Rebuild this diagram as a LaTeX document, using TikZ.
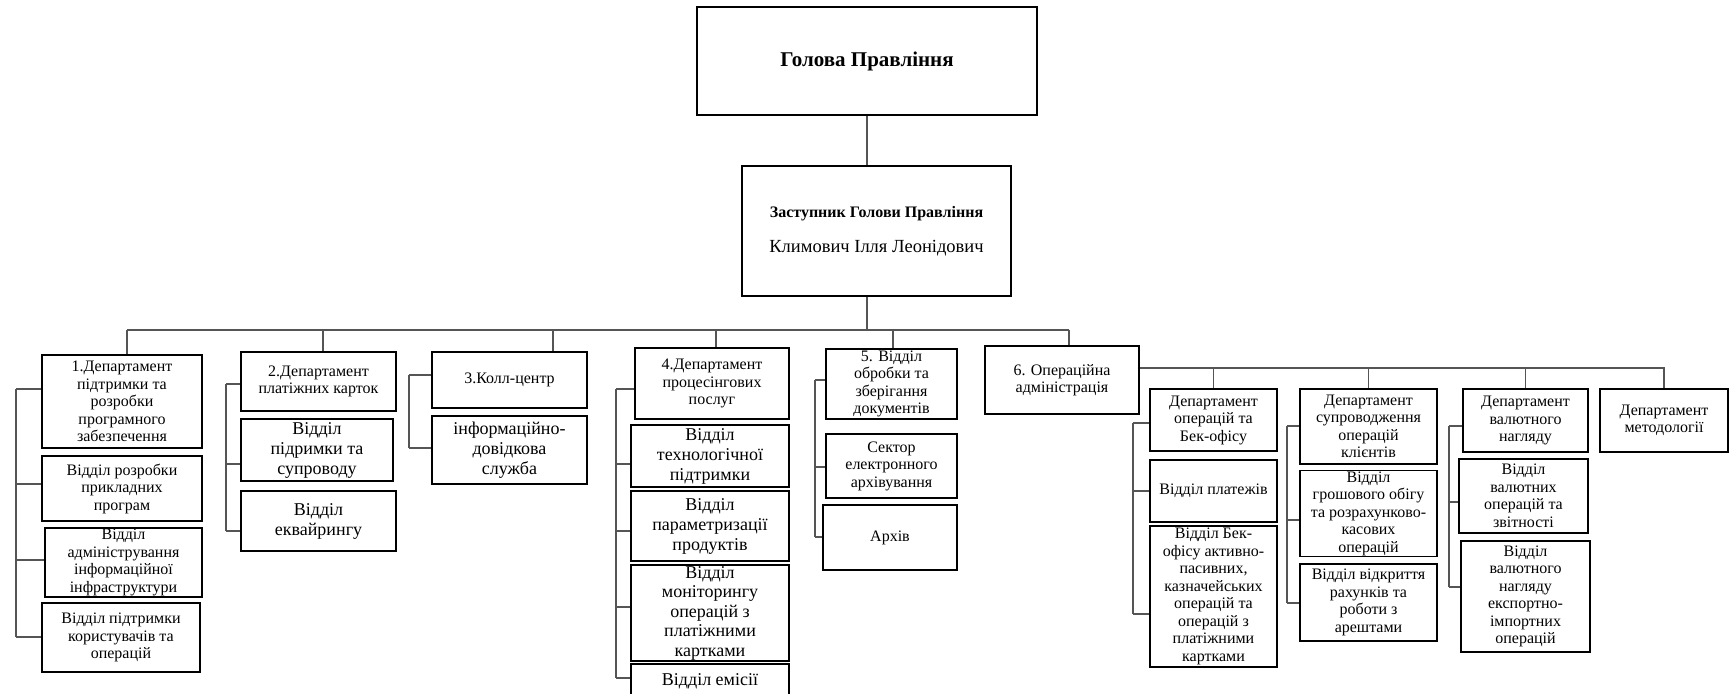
\documentclass[tikz,border=0pt]{standalone}
\usepackage{fontspec}
\setmainfont{Liberation Serif}
\definecolor{linkgrey}{RGB}{85,85,85}

\begin{document}
\begin{tikzpicture}[x=1pt, y=-1pt,
    box/.style={draw, line width=1.7pt, inner sep=1pt, align=center,
      font=\fontsize{16}{17.5}\selectfont},
    bigbox/.style={box, font=\fontsize{18}{20}\selectfont},
    link/.style={draw=linkgrey, line width=1.3pt}]
  \useasboundingbox (0,0) rectangle (1731,693);
  % Management
  \node[box, minimum width=340, minimum height=108,
    font=\fontsize{21}{23}\selectfont\bfseries] (top) at (867,61) {Голова Правління};
  \node[box, minimum width=269, minimum height=130] (dep) at (876.5,231)
    {{\bfseries Заступник Голови Правління}\\[18pt]{\fontsize{18.5}{20}\selectfont Климович Ілля Леонідович}};
  % Departments
  \node[box, minimum width=160, minimum height=93] (d1) at (122,401.5)
    {1.Департамент\\підтримки та\\розробки\\програмного\\забезпечення};
  \node[box, minimum width=155, minimum height=59] (d2) at (318.5,381.5)
    {2.Департамент\\платіжних карток};
  \node[box, minimum width=155, minimum height=56] (d3) at (509.5,380) {3.Колл-центр};
  \node[box, minimum width=154, minimum height=71] (d4) at (712,383.5)
    {4.Департамент\\процесінгових\\послуг};
  \node[box, minimum width=131, minimum height=70] (d5) at (891.5,384)
    {5. Відділ\\обробки та\\зберігання\\документів};
  \node[box, minimum width=154, minimum height=68] (d6) at (1062,380)
    {6. Операційна\\адміністрація};
  % Group 1
  \node[box, minimum width=160, minimum height=65] (s11) at (122,488.5)
    {Відділ розробки\\прикладних\\програм};
  \node[box, minimum width=157, minimum height=69] (s12) at (123.5,562.5)
    {Відділ\\адміністрування\\інформаційної\\інфраструктури};
  \node[box, minimum width=158, minimum height=69] (s13) at (121,637.5)
    {Відділ підтримки\\користувачів та\\операцій};
  % Group 2
  \node[bigbox, minimum width=152, minimum height=62] (s21) at (317,450)
    {Відділ\\підримки та\\супроводу};
  \node[bigbox, minimum width=155, minimum height=60] (s22) at (318.5,521)
    {Відділ\\еквайрингу};
  % Group 3
  \node[bigbox, minimum width=155, minimum height=68] (s31) at (509.5,450)
    {інформаційно-\\довідкова\\служба};
  % Group 4
  \node[bigbox, minimum width=158, minimum height=62] (s41) at (710,456)
    {Відділ\\технологічної\\підтримки};
  \node[bigbox, minimum width=158, minimum height=70] (s42) at (710,526)
    {Відділ\\параметризації\\продуктів};
  \node[bigbox, minimum width=158, minimum height=92, font=\fontsize{18}{19.5}\selectfont] (s43) at (710,613)
    {Відділ\\моніторингу\\операцій з\\платіжними\\картками};
  \node[bigbox, minimum width=158, minimum height=34] (s44) at (710,681) {Відділ емісії};
  % Group 5
  \node[box, minimum width=131, minimum height=64] (s51) at (891.5,466)
    {Сектор\\електронного\\архівування};
  \node[box, minimum width=134, minimum height=65] (s52) at (890,537.5) {Архів};
  % Group 6
  \node[box, minimum width=127, minimum height=62] (e1) at (1213.5,420)
    {Департамент\\операцій та\\Бек-офісу};
  \node[box, minimum width=137, minimum height=75] (e2) at (1368.5,426.5)
    {Департамент\\супроводження\\операцій\\клієнтів};
  \node[box, minimum width=125, minimum height=63] (e3) at (1525.5,420.5)
    {Департамент\\валютного\\нагляду};
  \node[box, minimum width=128, minimum height=63] (e4) at (1664,420.5)
    {Департамент\\методології};
  \node[box, minimum width=127, minimum height=62] (s611) at (1213.5,491) {Відділ платежів};
  \node[box, minimum width=127, minimum height=141] (s612) at (1213.5,596.5)
    {Відділ Бек-\\офісу активно-\\пасивних,\\казначейських\\операцій та\\операцій з\\платіжними\\картками};
  \node[box, minimum width=137, minimum height=85] (s621) at (1368.5,513.5)
    {Відділ\\грошового обігу\\та розрахунково-\\касових\\операцій};
  \node[box, minimum width=137, minimum height=77] (s622) at (1368.5,602.5)
    {Відділ відкриття\\рахунків та\\роботи з\\арештами};
  \node[box, minimum width=129, minimum height=74] (s631) at (1523.5,496)
    {Відділ\\валютних\\операцій та\\звітності};
  \node[box, minimum width=129, minimum height=111] (s632) at (1525.5,596.5)
    {Відділ\\валютного\\нагляду\\експортно-\\імпортних\\операцій};
  % Connectors
  \coordinate (bus) at (0,330);
  \coordinate (bus6) at (0,368);
  \draw[link] (top.south) -- (top.south |- dep.north);
  \draw[link] (top.south |- dep.south) -- (top.south |- bus);
  \draw[link] (bus -| 127,0) -- (bus -| 1069,0);
  \foreach \n/\x in {d1/127, d2/323, d3/553, d4/716, d5/893, d6/1069}
    \draw[link] (bus -| \x,0) -- (\n.north -| \x,0);
  \draw[link] (d6.east |- bus6) -- (e4.north |- bus6) -- (e4.north);
  \foreach \n in {e1,e2,e3}
    \draw[link] (\n.north |- bus6) -- (\n.north);
  % Side branches
  \foreach \xs/\ya/\yb in {16/389/637, 226/384/531, 409/375/448, 616/389/678,
      815/380/537, 1133/423/614, 1287/426/603, 1449/426/587}
    \draw[link] (\xs,\ya) -- (\xs,\yb);
  \foreach \n/\xs/\y in {d1/16/389, s11/16/484, s12/16/560, s13/16/637,
      d2/226/384, s21/226/464, s22/226/531, d3/409/375, s31/409/448,
      d4/616/389, s41/616/464, s42/616/531, s43/616/607, s44/616/678,
      d5/815/380, s51/815/467, s52/815/537,
      e1/1133/423, s611/1133/491, s612/1133/614,
      e2/1287/426, s621/1287/520, s622/1287/603,
      e3/1449/426, s631/1449/502, s632/1449/587}
    \draw[link] (\xs,\y) -- (\n.west |- 0,\y);
\end{tikzpicture}
\end{document}
